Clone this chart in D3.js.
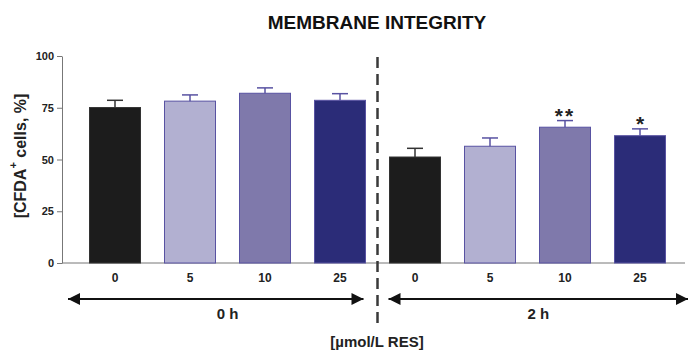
<!DOCTYPE html>
<html>
<head>
<meta charset="utf-8">
<script src="https://cdn.jsdelivr.net/npm/d3@7"></script>
<style>
  body { margin: 0; background: #fff; }
  svg { display: block; font-family: "Liberation Sans", Arial, sans-serif; }
</style>
</head>
<body>
<svg id="chart" width="689" height="353"></svg>
<script>
var doses = ["0", "5", "10", "25"];
var times = ["0 h", "2 h"];
var means = [75.1, 78.2, 82.0, 78.6, 51.2, 56.4, 65.6, 61.5];
var errs = [3.5, 3.0, 2.6, 3.2, 4.2, 4.0, 3.2, 3.3];
var stars = ["", "", "", "", "", "", "**", "*"];
var yTicks = [0, 25, 50, 75, 100];
var fills = ["#1c1c1c", "#b2b0d1", "#7f79ab", "#2b2c78"];

var svg = d3.select("#chart");
var data = means.map(function(m, i) {
    return {i: i, dose: doses[i % 4], mean: m, err: errs[i], star: stars[i]};
});

var x = d3.scaleBand()
    .domain(d3.range(means.length))
    .range([77.5, 677.5])
    .paddingInner(0.32)
    .paddingOuter(0.16);
var y = d3.scaleLinear().domain([0, 100]).range([263, 56]);
var cx = function(i) { return x(i) + x.bandwidth() / 2; };

// title
svg.append("text")
    .attr("x", 377).attr("y", 29)
    .attr("text-anchor", "middle")
    .attr("font-weight", "bold")
    .attr("font-size", 19)
    .attr("fill", "#111")
    .text("MEMBRANE INTEGRITY");

// y axis
var yAxis = svg.append("g")
    .attr("transform", "translate(62,0)")
    .call(d3.axisLeft(y).tickValues(yTicks).tickSize(5).tickPadding(3).tickSizeOuter(0));
yAxis.selectAll("text").attr("font-size", 11).attr("font-weight", "bold").attr("fill", "#222").attr("font-family", null);
yAxis.selectAll("line, path").attr("stroke", "#777");

// x baseline
svg.append("line")
    .attr("x1", 62).attr("x2", 685)
    .attr("y1", y(0)).attr("y2", y(0))
    .attr("stroke", "#777");

// bars
svg.selectAll(".bar")
    .data(data)
    .enter().append("rect")
    .attr("class", "bar")
    .attr("x", function(d) { return x(d.i); })
    .attr("y", function(d) { return y(d.mean); })
    .attr("width", x.bandwidth())
    .attr("height", function(d) { return y(0) - y(d.mean); })
    .attr("fill", function(d) { return fills[d.i % 4]; })
    .attr("stroke", function(d) { return d.i % 4 == 0 ? "#333" : "#5852a2"; })
    .attr("stroke-width", 1);

// error bars
var eb = svg.selectAll(".err")
    .data(data)
    .enter().append("g")
    .attr("stroke", function(d) { return d.i % 4 == 0 ? "#333" : "#5852a2"; })
    .attr("stroke-width", 1.5);
eb.append("line")
    .attr("x1", function(d) { return cx(d.i); })
    .attr("x2", function(d) { return cx(d.i); })
    .attr("y1", function(d) { return y(d.mean); })
    .attr("y2", function(d) { return y(d.mean + d.err); });
eb.append("line")
    .attr("x1", function(d) { return cx(d.i) - 8; })
    .attr("x2", function(d) { return cx(d.i) + 8; })
    .attr("y1", function(d) { return y(d.mean + d.err); })
    .attr("y2", function(d) { return y(d.mean + d.err); });

// significance stars
svg.selectAll(".star")
    .data(data.filter(function(d) { return d.star; }))
    .enter().append("text")
    .attr("x", function(d) { return cx(d.i); })
    .attr("y", function(d) { return y(d.mean + d.err) + 2; })
    .attr("text-anchor", "middle")
    .attr("font-size", 21)
    .attr("font-weight", "bold")
    .attr("letter-spacing", function(d) { return d.star.length > 1 ? 2 : 0; })
    .attr("fill", "#222")
    .text(function(d) { return d.star; });

// dose labels
svg.selectAll(".dose")
    .data(data)
    .enter().append("text")
    .attr("x", function(d) { return cx(d.i); })
    .attr("y", 282)
    .attr("text-anchor", "middle")
    .attr("font-size", 12)
    .attr("font-weight", "bold")
    .attr("fill", "#222")
    .text(function(d) { return d.dose; });

// divider
var midX = (x(3) + x.bandwidth() + x(4)) / 2;
svg.append("line")
    .attr("x1", midX).attr("x2", midX)
    .attr("y1", 57).attr("y2", 326)
    .attr("stroke", "#3a3a3a")
    .attr("stroke-width", 2.5)
    .attr("stroke-dasharray", "11,6");

// time arrows
svg.append("defs").append("marker")
    .attr("id", "head")
    .attr("viewBox", "0 0 10 10")
    .attr("refX", 10).attr("refY", 5)
    .attr("markerWidth", 7).attr("markerHeight", 6)
    .attr("orient", "auto-start-reverse")
    .append("path")
    .attr("d", "M0,0L10,5L0,10Z")
    .attr("fill", "#111");

var spans = [
    {label: times[0], x1: 68, x2: midX - 14, tx: (cx(0) + cx(3)) / 2},
    {label: times[1], x1: midX + 11, x2: 688, tx: (midX + 11 + 688) / 2}
];
svg.selectAll(".arrow")
    .data(spans)
    .enter().append("line")
    .attr("x1", function(d) { return d.x1; })
    .attr("x2", function(d) { return d.x2; })
    .attr("y1", 299).attr("y2", 299)
    .attr("stroke", "#111")
    .attr("stroke-width", 2)
    .attr("marker-start", "url(#head)")
    .attr("marker-end", "url(#head)");
svg.selectAll(".time")
    .data(spans)
    .enter().append("text")
    .attr("x", function(d) { return d.tx; })
    .attr("y", 319)
    .attr("text-anchor", "middle")
    .attr("font-size", 15)
    .attr("font-weight", "bold")
    .attr("fill", "#222")
    .text(function(d) { return d.label; });

// x title
svg.append("text")
    .attr("x", 377).attr("y", 347)
    .attr("text-anchor", "middle")
    .attr("font-size", 15)
    .attr("font-weight", "bold")
    .attr("fill", "#222")
    .text("[µmol/L RES]");

// y title
var yt = svg.append("text")
    .attr("transform", "translate(26,156) rotate(-90)")
    .attr("text-anchor", "middle")
    .attr("font-size", 16)
    .attr("font-weight", "bold")
    .attr("fill", "#222");
yt.append("tspan").text("[CFDA");
yt.append("tspan").attr("dy", -9).attr("font-size", 11).text("+");
yt.append("tspan").attr("dy", 9).text("  cells, %]");
</script>
</body>
</html>
